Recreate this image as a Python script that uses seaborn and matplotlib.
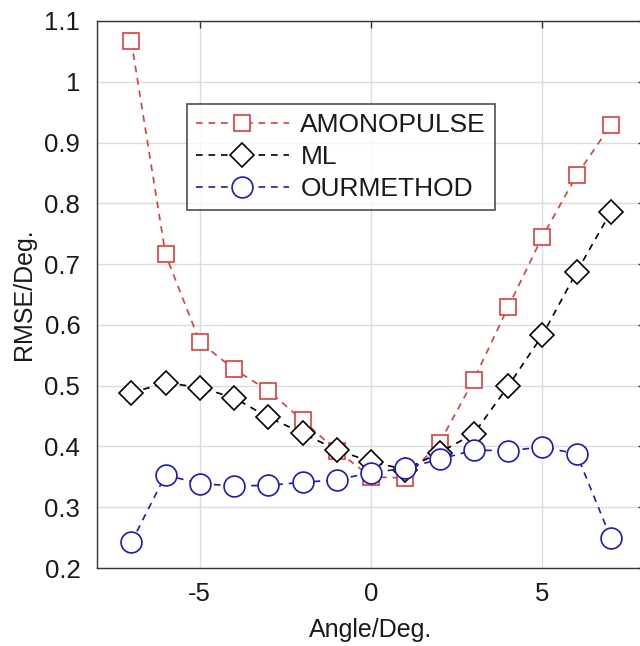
import matplotlib
matplotlib.use("Agg")
import matplotlib.pyplot as plt
import seaborn as sns
import pandas as pd
from matplotlib.ticker import FuncFormatter

angles = [-7, -6, -5, -4, -3, -2, -1, 0, 1, 2, 3, 4, 5, 6, 7]
amonopulse = [1.067, 0.716, 0.572, 0.527, 0.492, 0.443, 0.393, 0.350, 0.348, 0.406, 0.510, 0.629, 0.745, 0.846, 0.929]
ml = [0.488, 0.505, 0.497, 0.480, 0.448, 0.422, 0.394, 0.375, 0.362, 0.390, 0.421, 0.499, 0.583, 0.687, 0.786]
ourmethod = [0.242, 0.353, 0.339, 0.335, 0.336, 0.341, 0.345, 0.357, 0.364, 0.379, 0.394, 0.393, 0.399, 0.388, 0.249]
series_names = ["AMONOPULSE", "ML", "OURMETHOD"]

sns.set_style("white")
plt.rcParams['font.family'] = ['Liberation Sans', 'DejaVu Sans']
plt.rcParams['axes.unicode_minus'] = False
plt.rcParams['text.color'] = '#1a1a1a'
plt.rcParams['axes.labelcolor'] = '#1a1a1a'
plt.rcParams['xtick.labelcolor'] = '#1a1a1a'
plt.rcParams['ytick.labelcolor'] = '#1a1a1a'

fig = plt.figure(figsize=(6.4, 6.46), dpi=100)
ax = fig.add_axes([0.1516, 0.1207, 0.8564, 0.8468])

styles = [
    dict(color=(0.87, 0.24, 0.24), marker='s', ms=12),
    dict(color=(0.0, 0.0, 0.0), marker='D', ms=12),
    dict(color=(0.1, 0.1, 0.75), marker='o', ms=15),
]
data = [amonopulse, ml, ourmethod]
for name, vals, st in zip(series_names, data, styles):
    df = pd.DataFrame({"angle": angles, "rmse": vals})
    sns.lineplot(data=df, x="angle", y="rmse", ax=ax, color=st["color"],
                 linestyle='--', linewidth=1.2, marker=st["marker"],
                 markersize=st["ms"], markerfacecolor='white',
                 markeredgecolor=st["color"], markeredgewidth=1.2,
                 label=name, dashes=False)
    ax.lines[-1].set_dashes([4, 3.5])

ax.set_xlim(-8, 8)
ax.set_ylim(0.2, 1.1)
ax.set_xticks([-5, 0, 5])
ax.set_yticks([0.2, 0.3, 0.4, 0.5, 0.6, 0.7, 0.8, 0.9, 1.0, 1.1])
ax.yaxis.set_major_formatter(FuncFormatter(lambda v, p: f"{v:g}"))
ax.grid(True, color='#dcdcdc', linewidth=1)
ax.tick_params(direction='in', length=5, width=1, labelsize=18.5, color='#333333',
               top=True, right=True)
ax.tick_params(axis='y', pad=12)
ax.tick_params(axis='x', pad=10)
for s in ax.spines.values():
    s.set_color('#333333')
    s.set_linewidth(1.0)
ax.set_xlabel("Angle/Deg.", fontsize=18, labelpad=9)
ax.set_ylabel("RMSE/Deg.", fontsize=18, labelpad=6)

leg = ax.legend(loc='upper left', bbox_to_anchor=(0.164, 0.848), fontsize=19,
                frameon=True, fancybox=False, edgecolor='#222222',
                borderaxespad=0, handlelength=3.5, borderpad=0.35,
                labelspacing=0.3, handletextpad=0.45)
leg.get_frame().set_linewidth(1.2)

fig.savefig("out.png", dpi=100)
